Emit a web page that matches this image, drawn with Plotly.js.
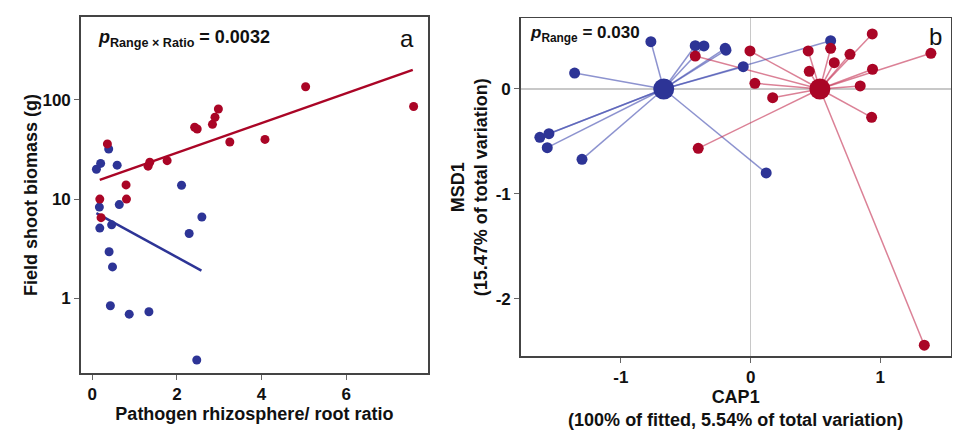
<!DOCTYPE html>
<html>
<head>
<meta charset="utf-8">
<script src="https://cdn.plot.ly/plotly-3.0.1.min.js"></script>
<style>html,body{margin:0;padding:0;background:#fff;}#chart{width:975px;height:434px;}</style>
</head>
<body>
<div id="chart"></div>
<script>
// ---- Panel a: pathogen ratio vs field shoot biomass ----
const redRatio   = [0.36, 0.18, 0.80, 0.81, 0.21, 1.32, 1.36, 1.77, 2.42, 2.48, 2.84, 2.90, 2.98, 3.25, 4.08, 5.04, 7.59];
const redBiomass = [36, 10, 13.9, 10, 6.5, 21.5, 23.5, 24.4, 53, 51, 56.8, 67, 81, 37.7, 40, 136, 86];
const blueRatio   = [0.39, 0.10, 0.20, 0.59, 2.11, 0.17, 0.64, 0.18, 0.46, 0.40, 0.48, 0.43, 0.875, 1.34, 2.47, 2.29, 2.59];
const blueBiomass = [32, 20, 22.9, 22, 13.8, 8.3, 8.8, 5.1, 5.5, 2.94, 2.07, 0.84, 0.69, 0.73, 0.238, 4.5, 6.6];
const redFitX = [0.18, 7.57];
const redFitY = [15.6, 201];
const blueFitX = [0.10, 2.58];
const blueFitY = [7.2, 1.9];
const xTicksA = [0, 2, 4, 6];
const yTicksA = [1, 10, 100];
const yTickTextA = ['1', '10', '100'];

// ---- Panel b: CAP ordination ----
const blueCAP1 = [-0.769, -0.427, -0.36, -0.196, -0.19, -0.057, 0.617, -1.357, -1.625, -1.555, -1.568, -1.30, 0.12];
const blueMSD1 = [0.45, 0.412, 0.41, 0.387, 0.37, 0.212, 0.46, 0.152, -0.46, -0.426, -0.559, -0.67, -0.80];
const blueCentroid = [-0.67, 0.0];
const redCAP1 = [-0.427, -0.005, 0.444, 0.617, 0.938, 0.766, 0.645, 0.452, 1.39, 0.94, 0.033, 0.17, 0.845, 0.933, -0.404, 1.339];
const redMSD1 = [0.314, 0.362, 0.362, 0.387, 0.524, 0.33, 0.25, 0.168, 0.34, 0.188, 0.054, -0.083, 0.029, -0.27, -0.565, -2.44];
const redCentroid = [0.534, 0.0];
const xTicksB = [-1, 0, 1];
const xTickTextB = ['-1', '0', '1'];
const yTicksB = [-2, -1, 0];
const yTickTextB = ['-2', '-1', '0'];

const RED = 'rgb(170,5,38)';
const BLUE = 'rgb(45,52,150)';
const RED_L = 'rgba(195,45,80,0.6)';
const BLUE_L = 'rgba(65,75,175,0.6)';
const FONT = 'Liberation Sans, Arial, sans-serif';

function spokes(xs, ys, c) {
  const sx = [], sy = [];
  for (let i = 0; i < xs.length; i++) {
    sx.push(xs[i], c[0], null);
    sy.push(ys[i], c[1], null);
  }
  return {sx, sy};
}
const bs = spokes(blueCAP1, blueMSD1, blueCentroid);
const rs = spokes(redCAP1, redMSD1, redCentroid);

const traces = [
  {x: redFitX, y: redFitY, mode: 'lines', line: {color: RED, width: 2.5}, xaxis: 'x', yaxis: 'y', hoverinfo: 'skip'},
  {x: blueFitX, y: blueFitY, mode: 'lines', line: {color: BLUE, width: 2.5}, xaxis: 'x', yaxis: 'y', hoverinfo: 'skip'},
  {x: blueRatio, y: blueBiomass, mode: 'markers', marker: {color: BLUE, size: 9}, xaxis: 'x', yaxis: 'y'},
  {x: redRatio, y: redBiomass, mode: 'markers', marker: {color: RED, size: 9}, xaxis: 'x', yaxis: 'y'},

  {x: bs.sx, y: bs.sy, mode: 'lines', line: {color: BLUE_L, width: 1.5}, connectgaps: false, xaxis: 'x2', yaxis: 'y2', hoverinfo: 'skip'},
  {x: rs.sx, y: rs.sy, mode: 'lines', line: {color: RED_L, width: 1.5}, connectgaps: false, xaxis: 'x2', yaxis: 'y2', hoverinfo: 'skip'},
  {x: blueCAP1, y: blueMSD1, mode: 'markers', marker: {color: BLUE, size: 11}, xaxis: 'x2', yaxis: 'y2'},
  {x: redCAP1, y: redMSD1, mode: 'markers', marker: {color: RED, size: 11}, xaxis: 'x2', yaxis: 'y2'},
  {x: [blueCentroid[0]], y: [blueCentroid[1]], mode: 'markers', marker: {color: BLUE, size: 21}, xaxis: 'x2', yaxis: 'y2'},
  {x: [redCentroid[0]], y: [redCentroid[1]], mode: 'markers', marker: {color: RED, size: 21}, xaxis: 'x2', yaxis: 'y2'}
];

const axisBase = {
  showline: true, mirror: true, linecolor: '#444', linewidth: 1.5,
  showgrid: false, zeroline: false,
  ticks: 'outside', ticklen: 5, tickwidth: 1, tickcolor: '#666',
  tickfont: {family: FONT, size: 17, color: '#111', weight: 'bold'}
};
const titleFont = {family: FONT, size: 18, color: '#111', weight: 'bold'};

const layout = {
  width: 975, height: 434,
  margin: {l: 0, r: 0, t: 0, b: 0},
  paper_bgcolor: '#fff', plot_bgcolor: '#fff',
  showlegend: false,
  xaxis: Object.assign({}, axisBase, {
    domain: [0.0828, 0.439], anchor: 'y',
    range: [-0.27, 7.93], tickvals: xTicksA,
    title: {text: 'Pathogen rhizosphere/ root ratio', font: titleFont, standoff: 4}
  }),
  yaxis: Object.assign({}, axisBase, {
    domain: [0.1398, 0.9615], anchor: 'x', type: 'log',
    range: [-0.758, 2.84], tickvals: yTicksA, ticktext: yTickTextA,
    title: {text: 'Field shoot biomass (g)', font: titleFont, standoff: 0}
  }),
  xaxis2: Object.assign({}, axisBase, {
    domain: [0.534, 0.975], anchor: 'y2',
    range: [-1.773, 1.542], tickvals: xTicksB, ticktext: xTickTextB,
    zeroline: true, zerolinecolor: '#c8c8c8', zerolinewidth: 1.5,
    title: {text: 'CAP1<br>(100% of fitted, 5.54% of total variation)', font: titleFont, standoff: 0}
  }),
  yaxis2: Object.assign({}, axisBase, {
    domain: [0.1797, 0.9578], anchor: 'x2',
    range: [-2.543, 0.673], tickvals: yTicksB, ticktext: yTickTextB,
    zeroline: true, zerolinecolor: '#c8c8c8', zerolinewidth: 1.5,
    title: {text: 'MSD1<br>(15.47% of total variation)', font: titleFont, standoff: 3}
  }),
  annotations: [
    {xref: 'x domain', yref: 'y domain', x: 0.045, y: 0.94, xanchor: 'left', yanchor: 'middle', showarrow: false,
     text: '<b><i>p</i><sub>Range × Ratio</sub> = 0.0032</b>', font: {family: FONT, size: 18, color: '#111'}},
    {xref: 'x domain', yref: 'y domain', x: 0.965, y: 0.94, xanchor: 'right', yanchor: 'middle', showarrow: false,
     text: 'a', font: {family: FONT, size: 24, color: '#111'}},
    {xref: 'x2 domain', yref: 'y2 domain', x: 0.017, y: 0.955, xanchor: 'left', yanchor: 'middle', showarrow: false,
     text: '<b><i>p</i><sub>Range</sub> = 0.030</b>', font: {family: FONT, size: 17, color: '#111'}},
    {xref: 'x2 domain', yref: 'y2 domain', x: 0.985, y: 0.945, xanchor: 'right', yanchor: 'middle', showarrow: false,
     text: 'b', font: {family: FONT, size: 24, color: '#111'}}
  ]
};

Plotly.newPlot('chart', traces, layout, {staticPlot: true, displayModeBar: false});
</script>
</body>
</html>
